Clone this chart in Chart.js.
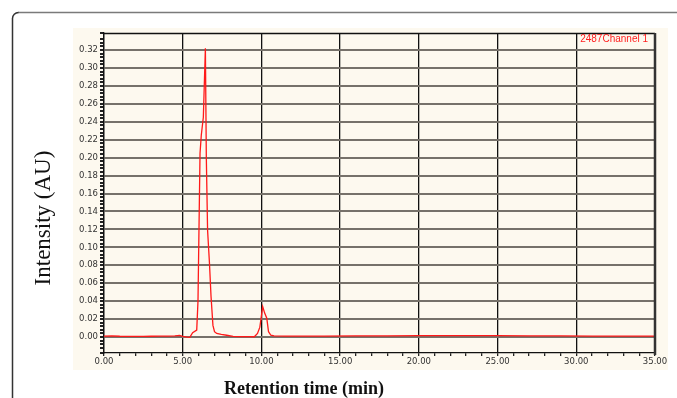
<!DOCTYPE html>
<html>
<head>
<meta charset="utf-8">
<script src="https://cdn.jsdelivr.net/npm/chart.js@4/dist/chart.umd.min.js"></script>
<style>
  html, body { margin: 0; padding: 0; background: #fff; }
</style>
</head>
<body>
<canvas id="hplc" width="677" height="398"></canvas>
<script>
// retention time (min) and detector response (AU)
const times = [0, 0.5, 1, 1.5, 2, 2.5, 3, 3.5, 4, 4.5, 4.8, 5.0, 5.3, 5.45, 5.63, 5.89, 5.97, 6.10, 6.18, 6.31, 6.44, 6.50, 6.58, 6.70, 6.80, 6.92, 7.02, 7.16, 7.45, 7.79, 8.2, 8.7, 9.2, 9.55, 9.75, 9.9, 10.08, 10.2, 10.34, 10.45, 10.6, 10.8, 11.5, 12.5, 14, 16, 18, 20, 22, 24, 25, 27, 29, 31, 33, 35];
const intensity = [0.0010, 0.0012, 0.0009, 0.0008, 0.0007, 0.0008, 0.0009, 0.0010, 0.0010, 0.0012, 0.0018, 0.0008, -0.0002, -0.0004, 0.0048, 0.0078, 0.0400, 0.2050, 0.2250, 0.2450, 0.3220, 0.2000, 0.1190, 0.0820, 0.0450, 0.0130, 0.0060, 0.0040, 0.0030, 0.0020, 0.0008, 0.0005, 0.0004, 0.0003, 0.0040, 0.0110, 0.0340, 0.0270, 0.0210, 0.0060, 0.0020, 0.0012, 0.0010, 0.0011, 0.0010, 0.0012, 0.0013, 0.0015, 0.0016, 0.0016, 0.0015, 0.0014, 0.0012, 0.0011, 0.0010, 0.0010];

const xTickLabels = ['0.00', '5.00', '10.00', '15.00', '20.00', '25.00', '30.00', '35.00'];
const yTickLabels = ['0.00', '0.02', '0.04', '0.06', '0.08', '0.10', '0.12', '0.14', '0.16',
                     '0.18', '0.20', '0.22', '0.24', '0.26', '0.28', '0.30', '0.32'];

const isMajor = (v, list) => list.includes(v.toFixed(2)) && Math.abs(v - parseFloat(v.toFixed(2))) < 1e-6;

const decor = {
  id: 'decor',
  beforeDraw(chart) {
    const c = chart.ctx;
    const a = chart.chartArea;
    c.save();
    c.fillStyle = '#fff';
    c.fillRect(0, 0, chart.width, chart.height);
    // outer frame
    c.lineWidth = 1.5;
    c.strokeStyle = '#7a7a7a';
    c.beginPath();
    c.moveTo(18, 12.5);
    c.lineTo(chart.width + 2, 12.5);
    c.stroke();
    c.strokeStyle = '#333';
    c.beginPath();
    c.moveTo(12.5, chart.height + 2);
    c.lineTo(12.5, 18);
    c.arcTo(12.5, 12.5, 18, 12.5, 6);
    c.stroke();
    // cream panel
    c.fillStyle = '#fdf9ef';
    c.fillRect(73, 28, 595, 342);
    c.fillRect(a.left, a.top, a.right - a.left, a.bottom - a.top);
    c.restore();
  },
  afterDraw(chart) {
    const c = chart.ctx;
    const a = chart.chartArea;
    c.save();
    c.strokeStyle = '#111';
    c.lineWidth = 1.4;
    c.beginPath();
    c.moveTo(a.left, a.top + 0.5);
    c.lineTo(a.right, a.top + 0.5);
    c.stroke();
    c.strokeStyle = '#333';
    c.lineWidth = 2.5;
    c.beginPath();
    c.moveTo(a.right, a.top);
    c.lineTo(a.right, a.bottom + 2);
    c.stroke();

    c.fillStyle = '#ff2020';
    c.font = '10px "Liberation Sans", Arial, sans-serif';
    c.textAlign = 'right';
    c.textBaseline = 'middle';
    c.fillText('2487Channel 1', a.right - 7, 39);

    c.fillStyle = '#111';
    c.textAlign = 'center';
    c.font = 'bold 18px "Liberation Serif", "Times New Roman", serif';
    c.fillText('Retention time (min)', 304, 389);

    c.translate(44, 218);
    c.rotate(-Math.PI / 2);
    c.font = '23px "Liberation Serif", "Times New Roman", serif';
    c.fillText('Intensity (AU)', 0, 0);
    c.restore();
  }
};

new Chart(document.getElementById('hplc'), {
  type: 'line',
  data: {
    datasets: [{
      label: '2487Channel 1',
      data: times.map((t, i) => ({ x: t, y: intensity[i] })),
      borderColor: '#ff1a1a',
      borderWidth: 1.3,
      pointRadius: 0,
      tension: 0,
      fill: false
    }]
  },
  options: {
    responsive: false,
    animation: false,
    devicePixelRatio: 1,
    layout: { padding: { left: 0, right: 22, top: 33, bottom: 0 } },
    plugins: { legend: { display: false }, tooltip: { enabled: false } },
    scales: {
      x: {
        type: 'linear',
        min: 0,
        max: 35,
        afterFit(s) { s.height = 45; },
        ticks: {
          stepSize: 1,
          autoSkip: false,
          maxRotation: 0,
          padding: 1,
          color: '#333',
          font: { family: '"DejaVu Sans", Verdana, sans-serif', size: 8.5 },
          callback: v => isMajor(v, xTickLabels) ? v.toFixed(2) : ''
        },
        grid: {
          color: ctx => ctx.tick && isMajor(ctx.tick.value, xTickLabels) ? '#111' : 'rgba(0,0,0,0)',
          lineWidth: 1.3,
          tickColor: '#222',
          tickLength: 3
        },
        border: { display: true, color: '#111', width: 1.3 }
      },
      y: {
        min: -0.0178,
        max: 0.339,
        afterFit(s) { s.width = 104; },
        ticks: {
          stepSize: 0.004,
          autoSkip: false,
          padding: 2,
          color: '#333',
          font: { family: '"DejaVu Sans", Verdana, sans-serif', size: 8.5 },
          callback: v => isMajor(v, yTickLabels) ? v.toFixed(2) : ''
        },
        grid: {
          color: ctx => ctx.tick && isMajor(ctx.tick.value, yTickLabels) ? '#76716a' : 'rgba(0,0,0,0)',
          lineWidth: 2,
          tickColor: '#222',
          tickLength: 4
        },
        border: { display: true, color: '#111', width: 1.3 }
      }
    }
  },
  plugins: [decor]
});
</script>
</body>
</html>
